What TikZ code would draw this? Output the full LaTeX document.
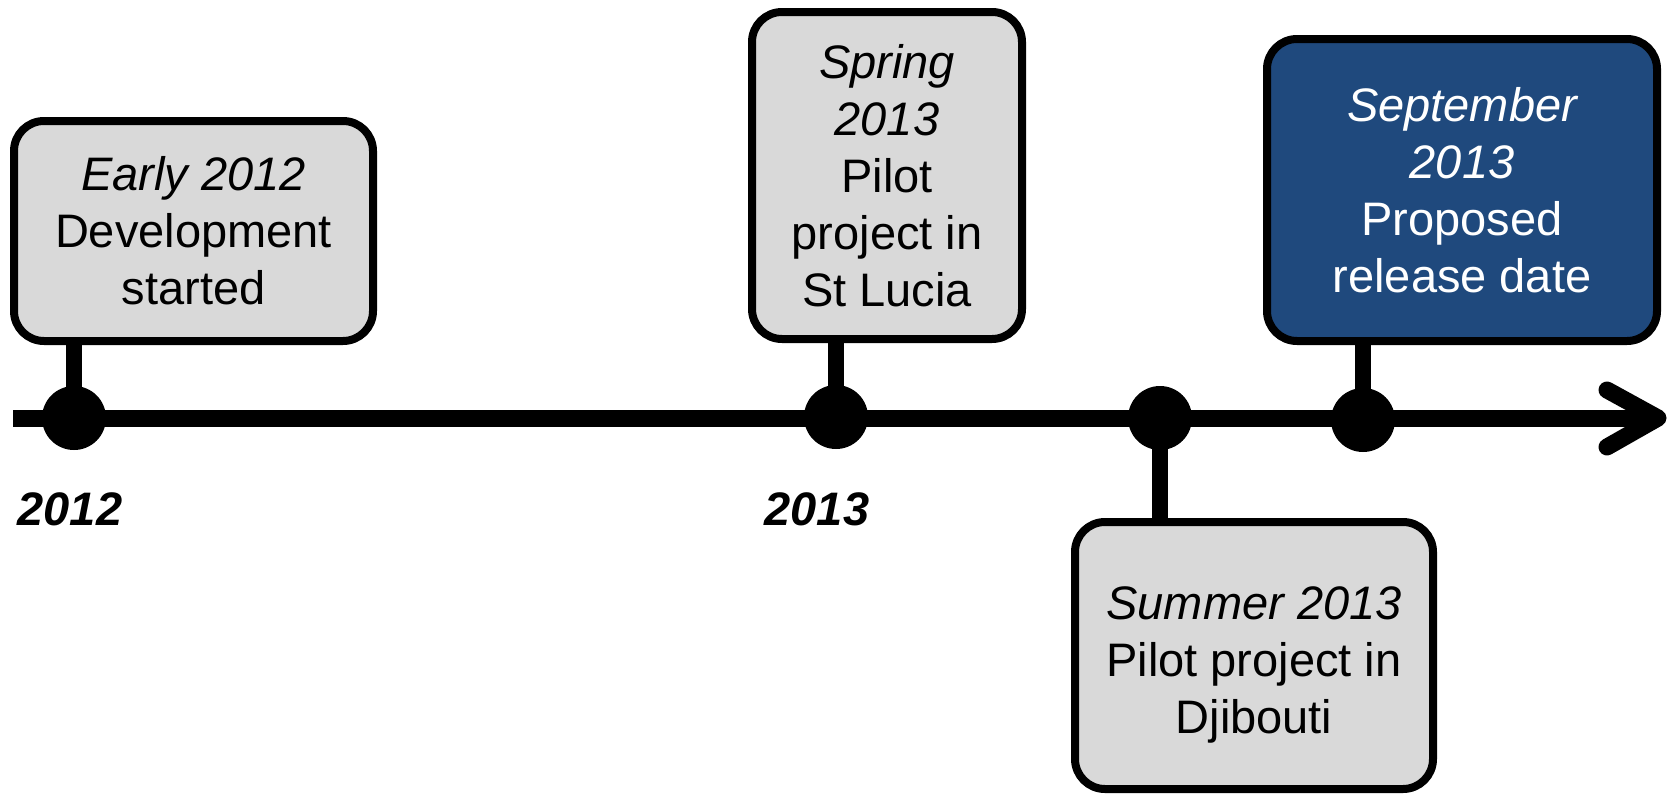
\documentclass[tikz,border=0pt]{standalone}
\usepackage{fontspec}
\setmainfont{Liberation Sans}
\definecolor{boxgray}{HTML}{D9D9D9}
\definecolor{boxblue}{HTML}{1F497D}
\begin{document}
\begin{tikzpicture}[x=1pt,y=-1pt,
  evbox/.style={draw=black, line width=8pt, rounded corners=30pt, fill=boxgray,
    inner sep=0pt, align=center, font=\fontsize{47}{57}\selectfont},
  evdot/.style={circle, fill=black, minimum size=64pt, inner sep=0pt},
  stemline/.style={line width=16pt},
  axisline/.style={line width=17pt},
  yearlbl/.style={inner sep=0pt, font=\fontsize{47}{57}\selectfont\bfseries\itshape}]
\useasboundingbox (0,0) rectangle (1670,795);

% timeline
\coordinate (tstart) at (13,418);
\coordinate (tend) at (1652,418);
\coordinate (tip) at (1658,418);
\coordinate (armup) at (1607,390);
\coordinate (armdn) at (1607,447);
\draw[axisline] (tstart) -- (tend);
\draw[axisline, line cap=round, line join=round] (armup) -- (tip) -- (armdn);

% boxes
\node[evbox, minimum width=359pt, minimum height=220pt] (b1) at (193.5,231)
  {\itshape Early 2012\\Development\\started};
\node[evbox, minimum width=270pt, minimum height=327pt] (b2) at (887,175.5)
  {\itshape Spring\\\itshape 2013\\Pilot\\project in\\St Lucia};
\node[evbox, minimum width=358pt, minimum height=267pt] (b3) at (1254,655.5)
  {\rule{0pt}{52pt}\itshape Summer 2013\\Pilot project in\\Djibouti};
\node[evbox, fill=boxblue, text=white, minimum width=390pt, minimum height=302pt] (b4) at (1462,190)
  {\itshape September\\\itshape 2013\\Proposed\\release date};

% dots
\node[evdot] (d1) at (74,418) {};
\node[evdot] (d2) at (836,417) {};
\node[evdot] (d3) at (1160,418) {};
\node[evdot] (d4) at (1363,420) {};

% stems
\draw[stemline] (b1.south -| d1) -- (d1.center);
\draw[stemline] (b2.south -| d2) -- (d2.center);
\draw[stemline] (d3.center) -- (b3.north -| d3);
\draw[stemline] (b4.south -| d4) -- (d4.center);

% year labels
\node[yearlbl] (y2012) at (70,509) {2012};
\node[yearlbl] (y2013) at (817,509) {2013};
\end{tikzpicture}
\end{document}
